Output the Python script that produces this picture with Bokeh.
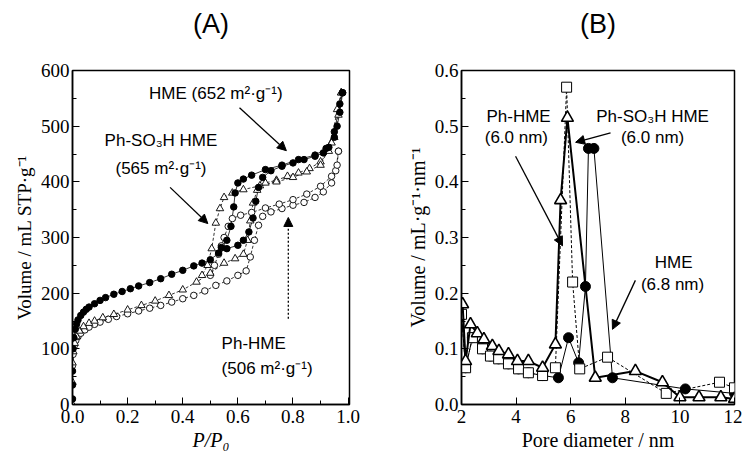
from bokeh.plotting import figure
from bokeh.layouts import row
from bokeh.models import (Arrow, NormalHead, Label, Range1d, FixedTicker, CustomJSTickFormatter,
                          LinearAxis)
from bokeh.embed import file_html
from bokeh.resources import INLINE

# ---------------- Panel A : N2 isotherms ----------------
hme_ads_x = [0.0, 0.0, 0.0, 0.002, 0.005, 0.01, 0.015, 0.02, 0.03, 0.04, 0.05, 0.06, 0.08, 0.10,
             0.12, 0.15, 0.18, 0.21, 0.24, 0.28, 0.32, 0.36, 0.40, 0.44, 0.47, 0.50, 0.53, 0.56,
             0.60, 0.62, 0.64, 0.655, 0.665, 0.675, 0.69, 0.72, 0.76, 0.80, 0.84, 0.88, 0.91,
             0.93, 0.95, 0.96, 0.97, 0.98]
hme_ads_y = [10, 35, 60, 100, 120, 135, 145, 152, 160, 166, 171, 175, 181, 187,
             192, 198, 203, 208, 213, 219, 226, 234, 241, 249, 254, 260, 272, 280,
             286, 295, 310, 335, 365, 390, 408, 420, 428, 434, 440, 446, 452,
             462, 480, 500, 525, 560]
hme_des_x = [0.98, 0.97, 0.95, 0.92, 0.88, 0.82, 0.76, 0.70, 0.65, 0.62, 0.60, 0.59, 0.585,
             0.575, 0.56, 0.54]
hme_des_y = [560, 540, 490, 460, 448, 440, 430, 422, 412, 405, 398, 380, 355,
             320, 295, 282]

so3h_ads_x = [0.0, 0.0, 0.0, 0.003, 0.008, 0.015, 0.025, 0.04, 0.06, 0.08, 0.11, 0.15, 0.2,
              0.25, 0.3, 0.35, 0.4, 0.45, 0.5, 0.55, 0.59, 0.62, 0.635, 0.645, 0.655, 0.67,
              0.70, 0.74, 0.78, 0.82, 0.86, 0.9, 0.93, 0.95, 0.965, 0.975]
so3h_ads_y = [0, 40, 75, 95, 110, 122, 132, 140, 146, 150, 156, 162, 170,
              178, 186, 196, 206, 220, 236, 254, 262, 270, 295, 330, 362, 385,
              398, 403, 410, 416, 424, 436, 455, 480, 520, 560]
so3h_des_x = [0.975, 0.96, 0.94, 0.9, 0.85, 0.8, 0.74, 0.68, 0.62, 0.58, 0.55, 0.535, 0.52,
              0.505, 0.49, 0.47]
so3h_des_y = [560, 530, 470, 430, 418, 408, 400, 393, 386, 380, 372, 352, 326,
              280, 250, 232]

ph_ads_x = [0.0, 0.002, 0.006, 0.012, 0.02, 0.03, 0.045, 0.06, 0.08, 0.1, 0.13, 0.16, 0.2,
            0.24, 0.28, 0.32, 0.36, 0.4, 0.44, 0.48, 0.52, 0.56, 0.6, 0.63, 0.645, 0.66,
            0.675, 0.69, 0.72, 0.76, 0.8, 0.84, 0.88, 0.91, 0.94, 0.955, 0.965]
ph_ads_y = [70, 90, 105, 115, 122, 128, 134, 139, 144, 148, 153, 158, 163,
            168, 173, 178, 184, 190, 196, 204, 214, 222, 232, 240, 265, 295,
            322, 338, 346, 352, 358, 363, 372, 382, 398, 420, 455]
ph_des_x = [0.965, 0.96, 0.94, 0.9, 0.85, 0.8, 0.75, 0.7, 0.65, 0.61, 0.58, 0.565, 0.55,
            0.54, 0.53, 0.515, 0.5]
ph_des_y = [455, 430, 410, 392, 378, 368, 360, 353, 345, 340, 334, 320, 300,
            285, 270, 250, 232]

# ---------------- Panel B : pore size distributions ----------------
hme_d = [2.0, 2.15, 2.4, 2.77, 3.06, 3.36, 3.72, 4.09, 4.45, 4.97, 5.55, 5.92, 6.29,
         6.54, 6.65, 6.85, 7.53, 10.2, 12.0]
hme_v = [0.16, 0.066, 0.12, 0.10, 0.087, 0.082, 0.073, 0.064, 0.057, 0.052, 0.048, 0.12, 0.075,
         0.212, 0.46, 0.46, 0.048, 0.028, 0.02]

ph_d = [2.0, 2.15, 2.4, 2.77, 3.06, 3.36, 3.72, 4.09, 4.45, 4.97, 5.44, 5.85, 6.07, 6.33,
        7.35, 9.5, 11.45, 12.0]
ph_v = [0.162, 0.066, 0.12, 0.10, 0.087, 0.082, 0.073, 0.064, 0.057, 0.052, 0.066, 0.57, 0.22,
        0.064, 0.085, 0.02, 0.04, 0.03]

so3h_d = [2.04, 2.15, 2.33, 2.58, 2.82, 3.13, 3.37, 3.72, 4.05, 4.45, 4.97, 5.44, 5.63, 5.88,
          6.9, 8.37, 9.36, 10.0, 10.7, 11.5, 12.0]
so3h_v = [0.18, 0.078, 0.144, 0.128, 0.117, 0.105, 0.096, 0.09, 0.078, 0.078, 0.066, 0.108,
          0.367, 0.515, 0.048, 0.06, 0.04, 0.013, 0.013, 0.013, 0.01]

a_xticks = [0.0, 0.2, 0.4, 0.6, 0.8, 1.0]
a_yticks = [0, 100, 200, 300, 400, 500, 600]
b_xticks = [2, 4, 6, 8, 10, 12]
b_yticks = [0.0, 0.1, 0.2, 0.3, 0.4, 0.5, 0.6]
panel_titles = ["(A)", "(B)"]

SERIF = "Liberation Serif"
SANS = "Liberation Sans"


def style(p, xt, yt, xminor, yminor, ylab_size):
    p.xgrid.visible = False
    p.ygrid.visible = False
    p.outline_line_color = "black"
    p.outline_line_width = 1.5
    for ax, t, m in ((p.xaxis[0], xt, xminor), (p.yaxis[0], yt, yminor)):
        ax.ticker = FixedTicker(ticks=t, minor_ticks=m)
        ax.axis_line_color = "black"
        ax.axis_line_width = 1.5
        ax.major_tick_in = 7
        ax.major_tick_out = 0
        ax.minor_tick_in = 4
        ax.minor_tick_out = 0
        ax.major_tick_line_color = "black"
        ax.minor_tick_line_color = "black"
        ax.major_label_text_font = SERIF
        ax.major_label_text_font_size = "19px"
        ax.major_label_text_color = "black"
        ax.axis_label_text_font = SERIF
        ax.axis_label_text_font_style = "normal"
        ax.axis_label_text_color = "black"
        ax.major_label_standoff = 3
        ax.axis_label_standoff = 3
    p.xaxis.major_label_standoff = 5
    p.xaxis.axis_label_standoff = 3
    p.xaxis.axis_label_text_font_size = "20px"
    p.yaxis.axis_label_text_font_size = ylab_size


def add_title(p, text):
    ax = LinearAxis(ticker=FixedTicker(ticks=[]), axis_label=text,
                    axis_line_color=None, major_tick_in=0, major_tick_out=0,
                    minor_tick_in=0, minor_tick_out=0, major_label_standoff=0,
                    axis_label_standoff=32, axis_label_text_font=SANS,
                    axis_label_text_font_size="27px", axis_label_text_font_style="normal",
                    axis_label_text_color="black")
    p.add_layout(ax, "above")


def add_label(p, x, y, text, align="center", size="17px"):
    p.add_layout(Label(x=x, y=y, text=text, text_font=SANS, text_font_size=size,
                       text_align=align, text_baseline="middle", text_color="black"))


def add_arrow(p, x0, y0, x1, y1, dash="solid", size=9):
    p.add_layout(Arrow(x_start=x0, y_start=y0, x_end=x1, y_end=y1, line_width=1.3,
                       line_color="black", line_dash=dash,
                       end=NormalHead(size=size, fill_color="black", line_color="black")))


# ---- figure A ----
pa = figure(width=380, height=456, x_range=Range1d(0, 1.005), y_range=Range1d(0, 600),
            output_backend="svg", toolbar_location=None,
            min_border_left=72, min_border_right=31, min_border_top=70, min_border_bottom=52)
pa.xaxis.axis_label = "P/P₀"
pa.yaxis.axis_label = "Volume / mL STP·g⁻¹"
style(pa, a_xticks, a_yticks, [0.1, 0.3, 0.5, 0.7, 0.9], [50, 150, 250, 350, 450, 550], "19px")
pa.xaxis.axis_label_text_font_style = "italic"
pa.xaxis.formatter = CustomJSTickFormatter(code="return tick.toFixed(1)")
add_title(pa, panel_titles[0])

pa.line(hme_ads_x, hme_ads_y, line_color="black", line_width=0.8)
pa.line(hme_des_x, hme_des_y, line_color="black", line_width=0.8)
pa.line(so3h_ads_x, so3h_ads_y, line_color="black", line_width=0.8, line_dash="3 2")
pa.line(so3h_des_x, so3h_des_y, line_color="black", line_width=0.8, line_dash="3 2")
pa.line(ph_ads_x, ph_ads_y, line_color="black", line_width=0.8, line_dash="3 2")
pa.line(ph_des_x, ph_des_y, line_color="black", line_width=0.8, line_dash="3 2")
pa.scatter(ph_ads_x + ph_des_x, ph_ads_y + ph_des_y, marker="circle", size=6.5,
           fill_color="white", line_color="black", line_width=0.9)
pa.scatter(so3h_ads_x + so3h_des_x, so3h_ads_y + so3h_des_y, marker="triangle", size=7.5,
           fill_color="white", line_color="black", line_width=0.9)
pa.scatter(hme_ads_x + hme_des_x, hme_ads_y + hme_des_y, marker="circle", size=6.5,
           fill_color="black", line_color="black")

add_label(pa, 0.52, 559, "HME (652 m²·g⁻¹)")
add_label(pa, 0.321, 474, "Ph-SO₃H HME")
add_label(pa, 0.321, 424, "(565 m²·g⁻¹)")
add_label(pa, 0.541, 110, "Ph-HME", "left")
add_label(pa, 0.541, 65, "(506 m²·g⁻¹)", "left")
add_arrow(pa, 0.606, 533, 0.776, 456)
add_arrow(pa, 0.354, 390, 0.491, 325)
add_arrow(pa, 0.783, 154, 0.783, 336, dash="2 2")

# ---- figure B ----
pb = figure(width=362, height=456, x_range=Range1d(2, 12), y_range=Range1d(0, 0.6),
            output_backend="svg", toolbar_location=None,
            min_border_left=81, min_border_right=8, min_border_top=67, min_border_bottom=52)
pb.xaxis.axis_label = "Pore diameter / nm"
pb.yaxis.axis_label = "Volume / mL·g⁻¹·nm⁻¹"
style(pb, b_xticks, b_yticks, [], [0.05, 0.15, 0.25, 0.35, 0.45, 0.55], "20px")
pb.yaxis.formatter = CustomJSTickFormatter(code="return tick.toFixed(1)")
add_title(pb, panel_titles[1])

pb.line(hme_d, hme_v, line_color="black", line_width=1)
pb.scatter(hme_d, hme_v, marker="circle", size=10, fill_color="black", line_color="black")
pb.line(ph_d, ph_v, line_color="black", line_width=1, line_dash="3 2")
pb.scatter(ph_d, ph_v, marker="square", size=10, fill_color="white", line_color="black",
           line_width=1)
pb.line(so3h_d, so3h_v, line_color="black", line_width=2)
pb.scatter(so3h_d, so3h_v, marker="triangle", size=12, fill_color="white", line_color="black",
           line_width=1.6)

add_label(pb, 4.09, 0.517, "Ph-HME")
add_label(pb, 4.01, 0.48, "(6.0 nm)")
add_label(pb, 9.0, 0.517, "Ph-SO₃H HME")
add_label(pb, 9.0, 0.48, "(6.0 nm)")
add_label(pb, 9.77, 0.255, "HME")
add_label(pb, 9.73, 0.216, "(6.8 nm)")
add_arrow(pb, 3.98, 0.446, 5.70, 0.285)
add_arrow(pb, 7.46, 0.488, 6.18, 0.471)
add_arrow(pb, 8.37, 0.223, 7.53, 0.135)

layout = row(pa, pb)
open("out.html", "w").write(file_html(layout, INLINE))
